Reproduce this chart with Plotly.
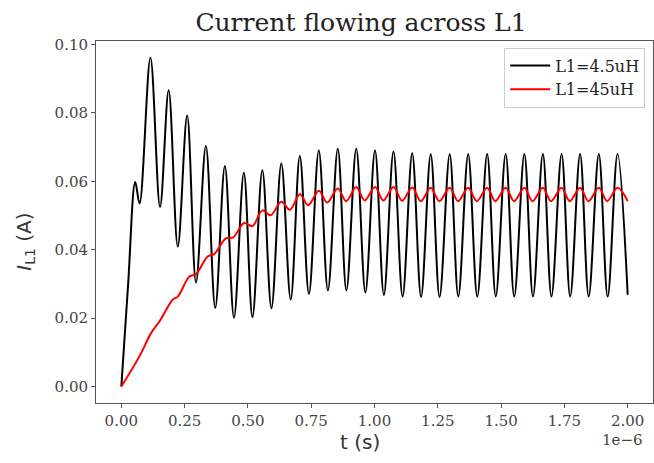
import plotly.graph_objects as go

# ---- data (time in microseconds, current in A) ----
black_t = [0.000, 0.027, 0.055, 0.072, 0.115, 0.153, 0.187, 0.223, 0.260, 0.295,
           0.334, 0.371, 0.409, 0.445, 0.484, 0.518, 0.557, 0.593, 0.632, 0.669,
           0.705, 0.741, 0.780, 0.816, 0.855, 0.889, 0.928, 0.964, 1.002, 1.037,
           1.075, 1.111, 1.149, 1.184, 1.222, 1.257, 1.297, 1.331, 1.370, 1.406,
           1.445, 1.479, 1.518, 1.552, 1.592, 1.626, 1.665, 1.699, 1.739, 1.773,
           1.812, 1.846, 1.886, 1.921, 1.960, 2.000]
black_i = [0.0000, 0.0300, 0.0598, 0.0535, 0.0961, 0.0525, 0.0866, 0.0409, 0.0792, 0.0304,
           0.0703, 0.0230, 0.0645, 0.0201, 0.0625, 0.0203, 0.0632, 0.0229, 0.0652, 0.0254,
           0.0674, 0.0271, 0.0690, 0.0281, 0.0695, 0.0281, 0.0695, 0.0275, 0.0690, 0.0268,
           0.0687, 0.0263, 0.0682, 0.0262, 0.0679, 0.0262, 0.0679, 0.0263, 0.0679, 0.0263,
           0.0680, 0.0263, 0.0680, 0.0263, 0.0680, 0.0263, 0.0680, 0.0263, 0.0680, 0.0263,
           0.0680, 0.0263, 0.0680, 0.0263, 0.0680, 0.0268]

red_t = [0.000, 0.072, 0.118, 0.151, 0.203, 0.223, 0.269, 0.295, 0.341, 0.367,
         0.413, 0.442, 0.485, 0.518, 0.557, 0.590, 0.632, 0.666, 0.705, 0.738,
         0.780, 0.813, 0.855, 0.888, 0.928, 0.961, 1.002, 1.035, 1.075, 1.109,
         1.149, 1.183, 1.222, 1.256, 1.297, 1.330, 1.370, 1.404, 1.445, 1.477,
         1.518, 1.551, 1.592, 1.624, 1.665, 1.697, 1.739, 1.771, 1.812, 1.845,
         1.886, 1.919, 1.960, 2.000]
red_i = [0.0000, 0.0089, 0.0157, 0.0191, 0.0254, 0.0263, 0.0322, 0.0329, 0.0380, 0.0387,
         0.0433, 0.0436, 0.0478, 0.0469, 0.0515, 0.0501, 0.0540, 0.0517, 0.0562, 0.0530,
         0.0572, 0.0538, 0.0579, 0.0542, 0.0583, 0.0544, 0.0583, 0.0544, 0.0583, 0.0543,
         0.0582, 0.0542, 0.0581, 0.0542, 0.0581, 0.0542, 0.0581, 0.0542, 0.0581, 0.0542,
         0.0581, 0.0542, 0.0581, 0.0542, 0.0581, 0.0542, 0.0581, 0.0542, 0.0581, 0.0542,
         0.0581, 0.0542, 0.0581, 0.0542]

x_tickvals = [0.0, 0.25, 0.5, 0.75, 1.0, 1.25, 1.5, 1.75, 2.0]
x_ticktext = ["0.00", "0.25", "0.50", "0.75", "1.00", "1.25", "1.50", "1.75", "2.00"]
y_tickvals = [0.0, 0.02, 0.04, 0.06, 0.08, 0.10]
y_ticktext = ["0.00", "0.02", "0.04", "0.06", "0.08", "0.10"]

series_names = ["L1=4.5uH", "L1=45uH"]

SERIF = "DejaVu Serif"
SANS = "DejaVu Sans"
TICK_COLOR = "#444444"
SPINE = "#555555"

fig = go.Figure()
fig.add_trace(go.Scatter(x=black_t, y=black_i, mode="lines", name=series_names[0],
                         line=dict(color="black", width=2, shape="spline", smoothing=1.0)))
fig.add_trace(go.Scatter(x=red_t, y=red_i, mode="lines", name=series_names[1],
                         line=dict(color="#ff0000", width=2, shape="spline", smoothing=1.0)))

axis_common = dict(showgrid=False, zeroline=False, showline=True, linecolor=SPINE,
                   linewidth=1, mirror=True, ticks="outside", ticklen=4, tickwidth=1,
                   tickcolor=SPINE, tickfont=dict(family=SERIF, size=15, color=TICK_COLOR))

fig.update_xaxes(range=[-0.1, 2.1], tickvals=x_tickvals, ticktext=x_ticktext, **axis_common)
fig.update_yaxes(range=[-0.0048, 0.1010], tickvals=y_tickvals, ticktext=y_ticktext, **axis_common)

fig.update_layout(
    width=654, height=463,
    margin=dict(l=96, r=1, t=41, b=60),
    paper_bgcolor="white", plot_bgcolor="white",
    title=dict(text="Current flowing across L1", font=dict(family=SERIF, size=25, color="#222222"),
               x=0.552, xref="container", xanchor="center",
               y=1 - 22 / 463, yref="container", yanchor="middle"),
    showlegend=True,
    legend=dict(x=0.986, y=0.982, xanchor="right", yanchor="top",
                bgcolor="white", bordercolor="#cccccc", borderwidth=1,
                font=dict(family=SERIF, size=16, color="#222222"),
                tracegroupgap=0, itemwidth=40),
    annotations=[
        dict(text="t (s)", xref="paper", yref="paper", x=(360 - 96) / 557, y=-(443 - 403.5) / 362.5,
             xanchor="center", yanchor="middle", showarrow=False,
             font=dict(family=SANS, size=20, color="#333333")),
        dict(text="<i>I</i><sub>L1</sub> (A)", xref="paper", yref="paper",
             x=-(96 - 25) / 557, y=(403.5 - 242) / 362.5, textangle=-90,
             xanchor="center", yanchor="middle", showarrow=False,
             font=dict(family=SANS, size=20, color="#333333")),
        dict(text="1e\u22126", xref="paper", yref="paper", x=(645 - 96) / 557, y=-(441 - 403.5) / 362.5,
             xanchor="right", yanchor="middle", showarrow=False,
             font=dict(family=SERIF, size=15, color=TICK_COLOR)),
    ],
)

fig.write_html("out.html")
